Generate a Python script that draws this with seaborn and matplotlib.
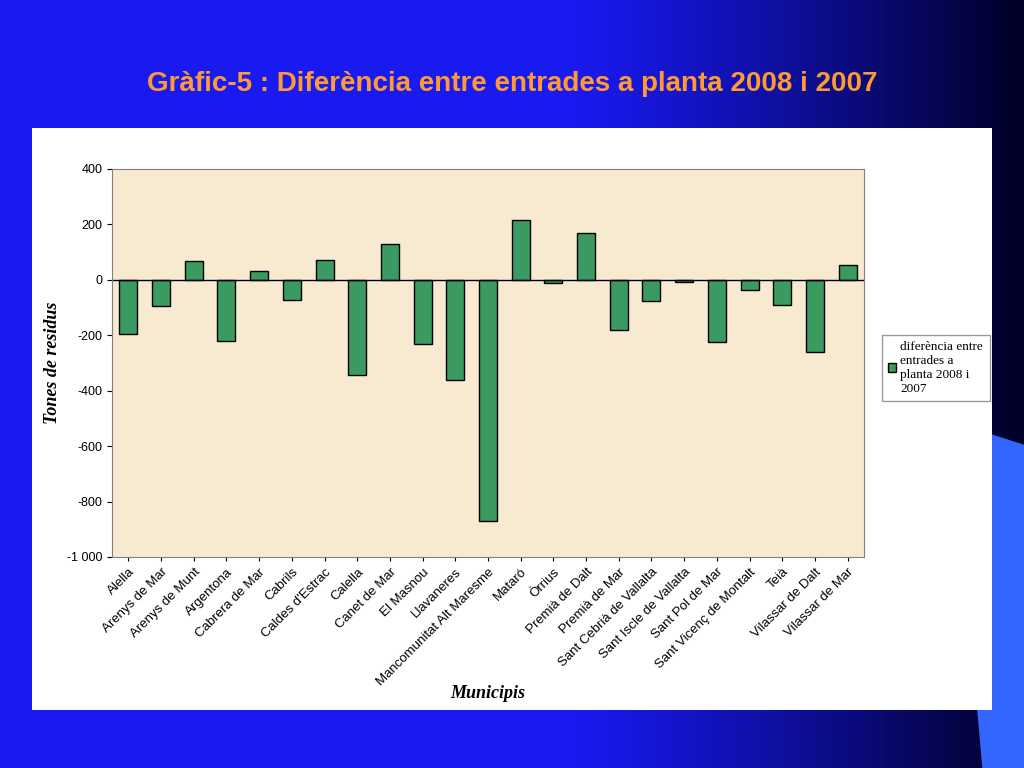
import numpy as np
import pandas as pd
import matplotlib
matplotlib.use("Agg")
import matplotlib.pyplot as plt
import seaborn as sns
from matplotlib.ticker import FuncFormatter

municipis = ["Alella", "Arenys de Mar", "Arenys de Munt", "Argentona", "Cabrera de Mar",
             "Cabrils", "Caldes d'Estrac", "Calella", "Canet de Mar", "El Masnou",
             "Llavaneres", "Mancomunitat Alt Maresme", "Mataró", "Òrrius", "Premià de Dalt",
             "Premià de Mar", "Sant Cebrià de Vallalta", "Sant Iscle de Vallalta",
             "Sant Pol de Mar", "Sant Vicenç de Montalt", "Teià", "Vilassar de Dalt",
             "Vilassar de Mar"]
diferencia = [-195, -94, 69, -220, 32, -72, 72, -343, 130, -231, -361, -870, 217, -10,
              170, -180, -76, -7, -224, -36, -90, -260, 54]

df = pd.DataFrame({"Municipis": municipis, "dif": diferencia})

plt.rcParams["font.family"] = "Liberation Sans"
fig = plt.figure(figsize=(10.24, 7.68), dpi=100)

# slide background: blue gradient
bg = fig.add_axes([0, 0, 1, 1])
grad = np.linspace(0, 1, 256)
cols = np.zeros((2, 256, 3))
start, end = np.array([0.10, 0.10, 0.95]), np.array([0.0, 0.0, 0.15])
w = np.clip((grad - 0.55) / 0.45, 0, 1) ** 1.2
cols[:] = start[None, :] * (1 - w[:, None]) + end[None, :] * w[:, None]
bg.imshow(cols, aspect="auto", extent=[0, 1, 0, 1])
bg.fill([0.93, 1.0, 1.0, 0.96], [0.45, 0.42, 0.0, 0.0], color="#3366ff")
bg.set_xlim(0, 1); bg.set_ylim(0, 1); bg.axis("off")
fig.text(0.5, 0.89, "Gràfic-5 : Diferència entre entrades a planta 2008 i 2007",
         ha="center", va="center", color="#FF9933", fontsize=20, fontweight="bold")

# white panel
panel = fig.add_axes([32/1024, 1 - 710/768, 960/1024, 582/768])
panel.set_facecolor("white")
panel.set_xticks([]); panel.set_yticks([])
for s in panel.spines.values():
    s.set_visible(False)

ax = fig.add_axes([112/1024, 1 - 557/768, 752/1024, 388/768])
ax.set_facecolor("#F8EAD0")
sns.barplot(data=df, x="Municipis", y="dif", color="#3A9A62", saturation=1, edgecolor="black",
            linewidth=1, width=0.55, ax=ax, label="diferència entre\nentrades a\nplanta 2008 i\n2007")
ax.set_ylim(-1000, 400)
ax.set_yticks(range(-1000, 401, 200))
ax.yaxis.set_major_formatter(FuncFormatter(lambda v, p: f"{int(v):,}".replace(",", " ")))
ax.axhline(0, color="black", lw=1)
ax.set_xlim(-0.5, len(municipis) - 0.5)
ax.tick_params(axis="y", labelsize=9)
ax.tick_params(axis="x", labelsize=9.5, length=3)
plt.setp(ax.get_xticklabels(), rotation=45, ha="right", rotation_mode="anchor")
for s in ax.spines.values():
    s.set_color("gray")
ax.set_xlabel("Municipis", fontfamily="Liberation Serif", fontstyle="italic",
              fontweight="bold", fontsize=13)
ax.set_ylabel("Tones de residus", fontfamily="Liberation Serif", fontstyle="italic",
              fontweight="bold", fontsize=13)
ax.xaxis.set_label_coords(0.5, -0.33)

leg = ax.legend(loc="upper left", bbox_to_anchor=(1.015, 0.59), frameon=True, fancybox=False,
                prop={"family": "Liberation Serif", "size": 9.5}, handlelength=0.6,
                handletextpad=0.3, borderpad=0.5)
leg.get_frame().set_edgecolor("gray")

fig.savefig("out.png", dpi=100)
